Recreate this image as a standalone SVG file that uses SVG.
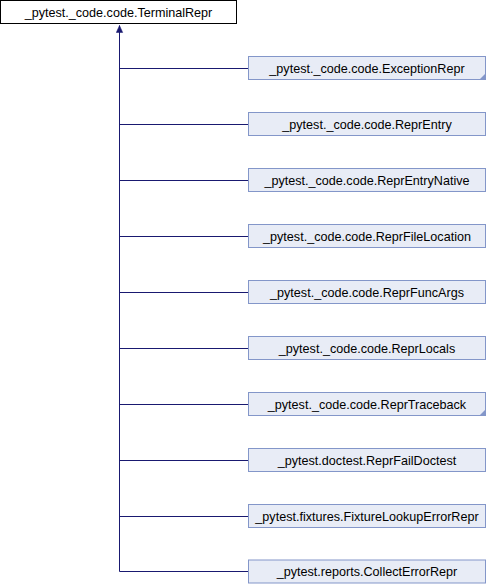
<svg xmlns="http://www.w3.org/2000/svg" width="486" height="584" viewBox="0 0 486 584">
<style>
.bg{fill:#ffffff}
.root{fill:#ffffff;stroke:#000000;stroke-width:1}
.node{fill:#e8ecf6;stroke:#8396c9;stroke-width:1}
.fold{fill:#8396c9}
.t{font-family:"Liberation Sans",Arial,sans-serif;font-size:12.6px;fill:#000000;text-anchor:middle}
.e{fill:none;stroke:#191970;stroke-width:1}
</style>
<defs>
<marker id="ah" markerWidth="8" markerHeight="8" refX="7" refY="4" orient="auto" markerUnits="userSpaceOnUse">
<path d="M0,0.8 L7,4 L0,7.2 Z" fill="#191970" stroke="#191970" stroke-width="0.5"/>
</marker>
</defs>
<rect class="bg" x="0" y="0" width="486" height="584"/>
<g id="edges">
<path class="e" d="M119.5,571.5 L119.5,25.5" marker-end="url(#ah)"/>
<path class="e" d="M119.5,68.5 H248"/>
<path class="e" d="M119.5,124.5 H248"/>
<path class="e" d="M119.5,180.5 H248"/>
<path class="e" d="M119.5,236.5 H248"/>
<path class="e" d="M119.5,292.5 H248"/>
<path class="e" d="M119.5,348.5 H248"/>
<path class="e" d="M119.5,404.5 H248"/>
<path class="e" d="M119.5,460.5 H248"/>
<path class="e" d="M119.5,516.5 H248"/>
<path class="e" d="M119.5,571.5 H248"/>
</g>
<g id="TerminalRepr">
<rect class="root" x="0.5" y="0.5" width="236" height="23"/>
<text class="t" x="118.5" y="16.5">_pytest._code.code.TerminalRepr</text>
</g>
<g id="ExceptionRepr">
<rect class="node" x="248.5" y="56.5" width="237" height="23"/>
<path class="fold" d="M485.5,73.5 L485.5,79.5 L479.5,79.5 Z"/>
<text class="t" x="367" y="72.5">_pytest._code.code.ExceptionRepr</text>
</g>
<g id="ReprEntry">
<rect class="node" x="248.5" y="112.5" width="237" height="23"/>
<text class="t" x="367" y="128.5">_pytest._code.code.ReprEntry</text>
</g>
<g id="ReprEntryNative">
<rect class="node" x="248.5" y="168.5" width="237" height="23"/>
<text class="t" x="367" y="184.5">_pytest._code.code.ReprEntryNative</text>
</g>
<g id="ReprFileLocation">
<rect class="node" x="248.5" y="224.5" width="237" height="23"/>
<text class="t" x="367" y="240.5">_pytest._code.code.ReprFileLocation</text>
</g>
<g id="ReprFuncArgs">
<rect class="node" x="248.5" y="280.5" width="237" height="23"/>
<text class="t" x="367" y="296.5">_pytest._code.code.ReprFuncArgs</text>
</g>
<g id="ReprLocals">
<rect class="node" x="248.5" y="336.5" width="237" height="23"/>
<text class="t" x="367" y="352.5">_pytest._code.code.ReprLocals</text>
</g>
<g id="ReprTraceback">
<rect class="node" x="248.5" y="392.5" width="237" height="23"/>
<path class="fold" d="M485.5,409.5 L485.5,415.5 L479.5,415.5 Z"/>
<text class="t" x="367" y="408.5">_pytest._code.code.ReprTraceback</text>
</g>
<g id="ReprFailDoctest">
<rect class="node" x="248.5" y="448.5" width="237" height="23"/>
<text class="t" x="367" y="464.5">_pytest.doctest.ReprFailDoctest</text>
</g>
<g id="FixtureLookupErrorRepr">
<rect class="node" x="248.5" y="504.5" width="237" height="23"/>
<text class="t" x="367" y="520.5">_pytest.fixtures.FixtureLookupErrorRepr</text>
</g>
<g id="CollectErrorRepr">
<rect class="node" x="248.5" y="560" width="237" height="23"/>
<text class="t" x="367" y="576">_pytest.reports.CollectErrorRepr</text>
</g>
</svg>
